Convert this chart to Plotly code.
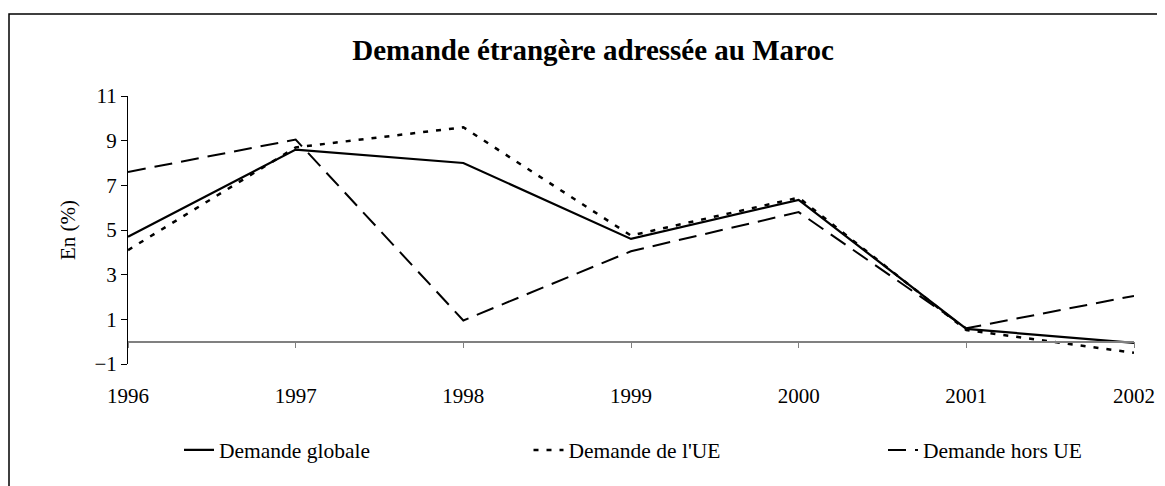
import plotly.graph_objects as go

years = [1996, 1997, 1998, 1999, 2000, 2001, 2002]
demande_globale = [4.7, 8.6, 8.0, 4.6, 6.35, 0.57, -0.05]
demande_ue = [4.1, 8.7, 9.6, 4.75, 6.45, 0.52, -0.5]
demande_hors_ue = [7.6, 9.05, 0.95, 4.05, 5.8, 0.6, 2.05]
y_ticks = [-1, 1, 3, 5, 7, 9, 11]

FONT = "Liberation Serif"
OFF = 8  # page body margin offset
W, H = 1165 - OFF, 486 - OFF
L, T = 128 - OFF, 96 - OFF
R = W - (1134 - OFF)
B = H - (364 - OFF)
pw, ph = W - L - R, H - T - B

def px_x(px):
    return (px - OFF - L) / pw

def px_y(py):
    return (H - B - (py - OFF)) / ph

fig = go.Figure()
fig.add_trace(go.Scatter(x=years, y=demande_globale, mode="lines", name="Demande globale",
                         line=dict(color="black", width=2.25), legend="legend"))
fig.add_trace(go.Scatter(x=years, y=demande_ue, mode="lines", name="Demande de l'UE",
                         line=dict(color="black", width=2.5, dash="5px,8px"), legend="legend2"))
fig.add_trace(go.Scatter(x=years, y=demande_hors_ue, mode="lines", name="Demande hors UE",
                         line=dict(color="black", width=2, dash="18px,9px"), legend="legend3"))

def leg(text_start_px):
    return dict(orientation="h", x=px_x(text_start_px - 42), xanchor="left",
                y=px_y(450), yanchor="middle",
                font=dict(family=FONT, size=21.5, color="black"),
                bgcolor="rgba(0,0,0,0)")

fig.update_layout(
    width=W, height=H,
    margin=dict(l=L, r=R, t=T, b=B, autoexpand=False),
    paper_bgcolor="white", plot_bgcolor="white",
    font=dict(family=FONT, color="black", size=21),
    title=dict(text="<b>Demande étrangère adressée au Maroc</b>",
               x=(593 - OFF) / W, xanchor="center", xref="container",
               y=1 - (50 - OFF) / H, yanchor="middle", yref="container",
               font=dict(family=FONT, size=29, color="black")),
    showlegend=True,
    legend=leg(221),
    legend2=leg(570.5),
    legend3=leg(925),
    xaxis=dict(range=[1996, 2002], tickmode="array", tickvals=years,
               ticktext=[str(y) for y in years],
               anchor="free", position=1 / 12,
               showline=True, linecolor="#808080", linewidth=1.5,
               ticks="outside", ticklen=6, tickcolor="#808080", tickwidth=1,
               ticklabelstandoff=29,
               showgrid=False, zeroline=False,
               tickfont=dict(family=FONT, size=21, color="black")),
    yaxis=dict(range=[-1, 11], tickmode="array", tickvals=y_ticks,
               showline=True, linecolor="black", linewidth=1,
               ticks="outside", ticklen=6, tickcolor="black",
               showgrid=False, zeroline=False,
               tickfont=dict(family=FONT, size=21, color="black"),
               title=dict(text="En (%)", standoff=13,
                          font=dict(family=FONT, size=21, color="black"))),
    shapes=[dict(type="rect", xref="paper", yref="paper",
                 x0=px_x(9), x1=px_x(1185), y0=px_y(510), y1=px_y(14),
                 line=dict(color="black", width=1.5), fillcolor="rgba(0,0,0,0)",
                 layer="below")],
)

fig.write_html("out.html")
